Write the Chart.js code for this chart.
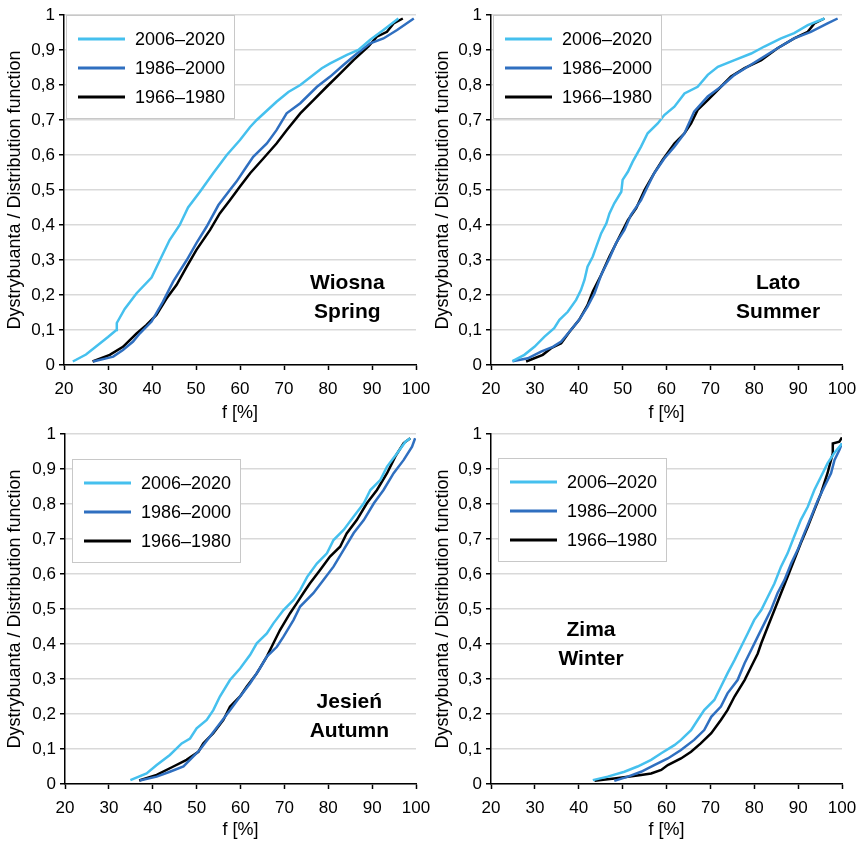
<!DOCTYPE html>
<html>
<head>
<meta charset="utf-8">
<script src="https://cdn.jsdelivr.net/npm/chart.js@4.4.1/dist/chart.umd.min.js"></script>
<style>
  body { margin: 0; background: #fff; }
  #wrap { position: relative; width: 857px; height: 842px; overflow: hidden; }
  canvas { position: absolute; }
</style>
</head>
<body>
<div id="wrap">
  <canvas id="c1" width="432" height="425" style="left:0;top:0"></canvas>
  <canvas id="c2" width="429" height="425" style="left:428px;top:0"></canvas>
  <canvas id="c3" width="432" height="422" style="left:0;top:420px"></canvas>
  <canvas id="c4" width="429" height="422" style="left:428px;top:420px"></canvas>
</div>
<script>
// periods shown in every panel
var periods = ["2006–2020", "1986–2000", "1966–1980"];
var colors = ["#45c0ee", "#2f6fc0", "#000000"];
var yTicks = [0, 0.1, 0.2, 0.3, 0.4, 0.5, 0.6, 0.7, 0.8, 0.9, 1];

// [f %, distribution]
var spring2006 = [[22,0.01],[25,0.03],[27,0.05],[30,0.08],[31.9,0.1],[32,0.12],[33.8,0.16],[36.5,0.205],[39.9,0.25],[42,0.305],[44,0.357],[46.3,0.4],[48.2,0.45],[50.9,0.495],[53.9,0.548],[57,0.6],[60,0.643],[62.3,0.68],[63.8,0.7],[68.3,0.752],[71,0.78],[73.7,0.8],[76.7,0.829],[78.6,0.848],[80.5,0.862],[84.3,0.886],[86.9,0.9],[89.6,0.929],[92.6,0.957],[96,0.99]];
var spring1986 = [[26.6,0.01],[29.6,0.019],[31.2,0.024],[33.4,0.043],[35.7,0.067],[37.2,0.09],[39.9,0.124],[42.5,0.181],[44.8,0.238],[47.9,0.3],[50.1,0.348],[52.4,0.395],[55.1,0.457],[57.7,0.5],[59.2,0.524],[61.5,0.567],[63,0.595],[66.1,0.633],[68.3,0.671],[70.6,0.719],[73.7,0.748],[77.5,0.795],[80.5,0.824],[83.5,0.857],[86.6,0.89],[89.6,0.919],[92.6,0.933],[95.7,0.957],[99.5,0.99]];
var spring1966 = [[26.5,0.01],[30.4,0.029],[33.4,0.052],[36.5,0.09],[38.7,0.114],[41,0.143],[43.3,0.19],[45.6,0.229],[47.9,0.281],[50.1,0.329],[53.2,0.386],[55.4,0.433],[57.7,0.471],[60,0.51],[62.3,0.548],[65.3,0.59],[68.3,0.633],[70.6,0.671],[73.7,0.719],[76.7,0.757],[79.7,0.795],[82.8,0.833],[85.8,0.871],[89.2,0.91],[91.1,0.938],[93.4,0.952],[94.9,0.976],[97,0.99]];

var summer2006 = [[24.9,0.011],[27.6,0.029],[29.9,0.052],[32.2,0.081],[34.4,0.105],[35.6,0.129],[37.5,0.152],[39.4,0.186],[40.5,0.214],[41.3,0.243],[42,0.281],[43.2,0.31],[44,0.338],[45.1,0.376],[46.3,0.405],[47,0.433],[48.1,0.462],[49.7,0.495],[50,0.529],[51.2,0.552],[52.3,0.581],[54.2,0.624],[55.7,0.662],[58,0.69],[59.5,0.714],[61.8,0.738],[64.1,0.776],[67.1,0.795],[69.4,0.829],[71.7,0.852],[75.5,0.871],[79.3,0.89],[82.3,0.91],[86.1,0.933],[89.1,0.948],[92.2,0.971],[96,0.99]];
var summer1986 = [[24.9,0.011],[28.4,0.019],[31.4,0.038],[34.1,0.052],[36,0.067],[38.2,0.1],[40.1,0.129],[42,0.167],[43.6,0.205],[45.1,0.257],[47,0.305],[48.5,0.348],[50.4,0.386],[51.9,0.429],[54.2,0.471],[55.7,0.51],[57.2,0.548],[59.5,0.59],[61.8,0.624],[64.1,0.662],[66.3,0.724],[69.4,0.767],[72.4,0.795],[75.5,0.829],[78.5,0.852],[81.6,0.876],[85.3,0.905],[89.1,0.933],[92.9,0.952],[96.7,0.976],[99,0.99]];
var summer1966 = [[28,0.01],[31.8,0.029],[33.7,0.048],[36,0.062],[37.9,0.095],[40.1,0.129],[42,0.171],[43.2,0.21],[45.1,0.257],[47,0.31],[48.9,0.357],[51.2,0.414],[53.1,0.448],[55,0.5],[57.2,0.548],[59.1,0.586],[61.8,0.633],[64.1,0.662],[65.6,0.69],[67.1,0.729],[69.4,0.757],[72.4,0.795],[74.7,0.824],[77.8,0.848],[81.6,0.871],[85.3,0.905],[89.1,0.933],[92.2,0.952],[93.7,0.976],[96,0.99]];

var autumn2006 = [[34.9,0.011],[38.6,0.03],[40.9,0.054],[43.9,0.083],[46.6,0.116],[48.5,0.13],[50,0.159],[52.3,0.183],[53.8,0.211],[55.3,0.25],[57.6,0.297],[59.9,0.33],[62.2,0.369],[63.7,0.402],[66,0.43],[67.5,0.459],[69.8,0.497],[72.1,0.526],[73.6,0.554],[75.2,0.592],[77.4,0.63],[79.7,0.659],[81.2,0.697],[83.5,0.726],[85.8,0.764],[88.1,0.802],[89.6,0.84],[91.9,0.869],[93.4,0.907],[95.7,0.945],[97.6,0.978],[98.7,0.988]];
var autumn1986 = [[37,0.01],[40.9,0.021],[43.9,0.035],[47,0.05],[49.2,0.078],[50.7,0.097],[53,0.135],[55.3,0.173],[57.6,0.211],[59.9,0.25],[62.2,0.288],[64.4,0.33],[66,0.364],[68.3,0.392],[69.8,0.421],[72.1,0.469],[73.6,0.507],[76.6,0.545],[78.9,0.583],[81.2,0.621],[83.5,0.669],[85.8,0.717],[88.1,0.754],[90.4,0.802],[92.6,0.84],[94.9,0.888],[97.2,0.926],[99.1,0.964],[99.8,0.988]];
var autumn1966 = [[36.9,0.01],[40.9,0.026],[44.7,0.05],[47.7,0.069],[50.4,0.092],[51.5,0.116],[53.8,0.145],[56.1,0.183],[57.6,0.221],[59.9,0.25],[61.4,0.278],[63.7,0.316],[66,0.364],[67.5,0.402],[69,0.44],[71.3,0.488],[72.8,0.516],[74.3,0.545],[75.8,0.573],[78.1,0.611],[80.4,0.65],[82.7,0.678],[84.2,0.716],[86.5,0.754],[88.8,0.802],[91.1,0.84],[93.4,0.888],[95.3,0.936],[97.2,0.974],[98.7,0.988]];

var winter2006 = [[43.2,0.011],[46.6,0.021],[50.4,0.035],[53.4,0.05],[56.5,0.069],[58.8,0.088],[61.8,0.111],[63.3,0.126],[65.6,0.154],[67.1,0.183],[68.6,0.211],[70.9,0.24],[72.4,0.278],[73.9,0.316],[75.5,0.354],[77,0.392],[78.5,0.43],[80,0.469],[81.6,0.497],[83.1,0.535],[84.6,0.573],[86.1,0.621],[87.6,0.659],[89.1,0.707],[90.6,0.754],[92.2,0.792],[93.7,0.84],[95.2,0.878],[96.7,0.916],[98.2,0.945],[100,0.973]];
var winter1986 = [[48.1,0.009],[51.2,0.021],[54.2,0.035],[57.2,0.054],[60.3,0.073],[63.3,0.097],[66.3,0.126],[68.6,0.154],[70.2,0.192],[72.4,0.221],[73.9,0.259],[76.2,0.297],[77.8,0.345],[79.3,0.383],[80.8,0.421],[82.3,0.459],[83.8,0.497],[85.3,0.545],[86.9,0.583],[88.4,0.63],[89.9,0.669],[91.4,0.716],[93,0.764],[94.5,0.811],[96,0.85],[97.5,0.888],[98.3,0.926],[99.4,0.954],[100,0.973]];
var winter1966 = [[43.6,0.009],[48.1,0.016],[51.2,0.021],[54.2,0.026],[56.5,0.03],[58.8,0.04],[60.3,0.054],[63.3,0.073],[65.6,0.092],[67.8,0.116],[70.2,0.145],[72.4,0.183],[73.9,0.211],[75.5,0.25],[77.8,0.297],[79.3,0.335],[80.8,0.373],[81.6,0.402],[83.1,0.45],[84.6,0.497],[86.1,0.545],[87.6,0.592],[89.1,0.64],[90.6,0.688],[92.2,0.735],[93.7,0.783],[95.2,0.83],[96.7,0.888],[97.9,0.945],[97.9,0.973],[99.4,0.978],[100,0.99]];

var FONT = "'Liberation Sans', Arial, sans-serif";

// legend drawn in a framed box inside the plot
var boxLegend = {
	id: "boxLegend",
	afterDatasetsDraw: function (chart, args, opts) {
		var ctx = chart.ctx, a = chart.chartArea;
		var x0 = Math.round(a.left + opts.dx), y0 = Math.round(a.top + opts.dy);
		ctx.save();
		ctx.fillStyle = "#fff";
		ctx.fillRect(x0, y0, 168, 103);
		ctx.strokeStyle = "#c8c8c8";
		ctx.lineWidth = 1;
		ctx.strokeRect(x0 + 0.5, y0 + 0.5, 168, 103);
		ctx.font = "18px " + FONT;
		ctx.textBaseline = "middle";
		chart.data.datasets.forEach(function (ds, i) {
			var y = y0 + 24 + i * 29;
			ctx.strokeStyle = ds.borderColor;
			ctx.lineWidth = 3;
			ctx.beginPath();
			ctx.moveTo(x0 + 12, y);
			ctx.lineTo(x0 + 59, y);
			ctx.stroke();
			ctx.fillStyle = "#000";
			ctx.fillText(ds.label, x0 + 69, y + 1);
		});
		ctx.restore();
	},
};

// season name (Polish / English) inside the plot
var seasonLabel = {
	id: "seasonLabel",
	afterDatasetsDraw: function (chart, args, opts) {
		var ctx = chart.ctx, a = chart.chartArea;
		var x = a.left + opts.fx * (a.right - a.left);
		var y = a.top + opts.fy * (a.bottom - a.top);
		ctx.save();
		ctx.font = "bold 21px " + FONT;
		ctx.fillStyle = "#000";
		ctx.textAlign = "center";
		ctx.textBaseline = "middle";
		opts.lines.forEach(function (t, i) {
			ctx.fillText(t, x, y + i * 29);
		});
		ctx.restore();
	},
};

function fmt(v) {
	if (Math.abs(v) < 1e-9) return "0";
	if (Math.abs(v - 1) < 1e-9) return "1";
	return v.toFixed(1).replace(".", ",");
}

function makeChart(id, series, p) {
	var datasets = series.map(function (s, i) {
		return {
			label: periods[i],
			data: s.map(function (pt) { return { x: pt[0], y: pt[1] }; }),
			borderColor: colors[i],
			backgroundColor: colors[i],
			borderWidth: 2.5,
			pointRadius: 0,
			tension: 0,
			fill: false,
		};
	});
	return new Chart(document.getElementById(id).getContext("2d"), {
		type: "line",
		data: { datasets: datasets },
		plugins: [boxLegend, seasonLabel],
		options: {
			responsive: false,
			animation: false,
			devicePixelRatio: 1,
			layout: { padding: { top: p.top, right: p.right, left: 0, bottom: 0 } },
			plugins: {
				legend: { display: false },
				tooltip: { enabled: false },
				boxLegend: { dx: p.ldx, dy: p.ldy },
				seasonLabel: { lines: p.season, fx: p.fx, fy: p.fy },
			},
			scales: {
				x: {
					type: "linear",
					min: 20,
					max: 100,
					ticks: { stepSize: 10, color: "#000", font: { size: 17, family: FONT }, padding: 9, maxRotation: 0 },
					grid: { drawOnChartArea: false, tickLength: 5, tickColor: "#000", tickWidth: 1.5 },
					border: { color: "#000", width: 1.5 },
					title: { display: true, text: "f [%]", color: "#000", font: { size: 18, family: FONT }, padding: { top: 0, bottom: 1 } },
					afterFit: function (s) { s.height = p.xh; s.paddingLeft = 0; s.paddingRight = 0; },
				},
				y: {
					min: 0,
					max: 1,
					afterBuildTicks: function (s) { s.ticks = yTicks.map(function (v) { return { value: v }; }); },
					ticks: { color: "#000", font: { size: 17, family: FONT }, padding: 4, callback: fmt },
					grid: { color: "#d9d9d9", lineWidth: 1.5, tickLength: 5, tickColor: "#000", tickWidth: 1.5 },
					border: { color: "#000", width: 1.5 },
					title: { display: true, text: "Dystrybuanta / Distribution function", color: "#000", font: { size: 18, family: FONT }, padding: { top: 4, bottom: 0 } },
					afterFit: function (s) { s.width = p.yw; s.paddingTop = 0; s.paddingBottom = 0; },
				},
			},
		},
	});
}

makeChart("c1", [spring2006, spring1986, spring1966], { top: 15, right: 16, yw: 64, xh: 60, ldx: 2, ldy: 0, season: ["Wiosna", "Spring"], fx: 0.805, fy: 0.766 });
makeChart("c2", [summer2006, summer1986, summer1966], { top: 15, right: 15, yw: 63, xh: 60, ldx: 2, ldy: 0, season: ["Lato", "Summer"], fx: 0.818, fy: 0.766 });
makeChart("c3", [autumn2006, autumn1986, autumn1966], { top: 14, right: 16, yw: 65, xh: 58, ldx: 7, ldy: 25, season: ["Jesień", "Autumn"], fx: 0.81, fy: 0.766 });
makeChart("c4", [winter2006, winter1986, winter1966], { top: 14, right: 15, yw: 63, xh: 58, ldx: 7, ldy: 24, season: ["Zima", "Winter"], fx: 0.285, fy: 0.56 });
</script>
</body>
</html>
